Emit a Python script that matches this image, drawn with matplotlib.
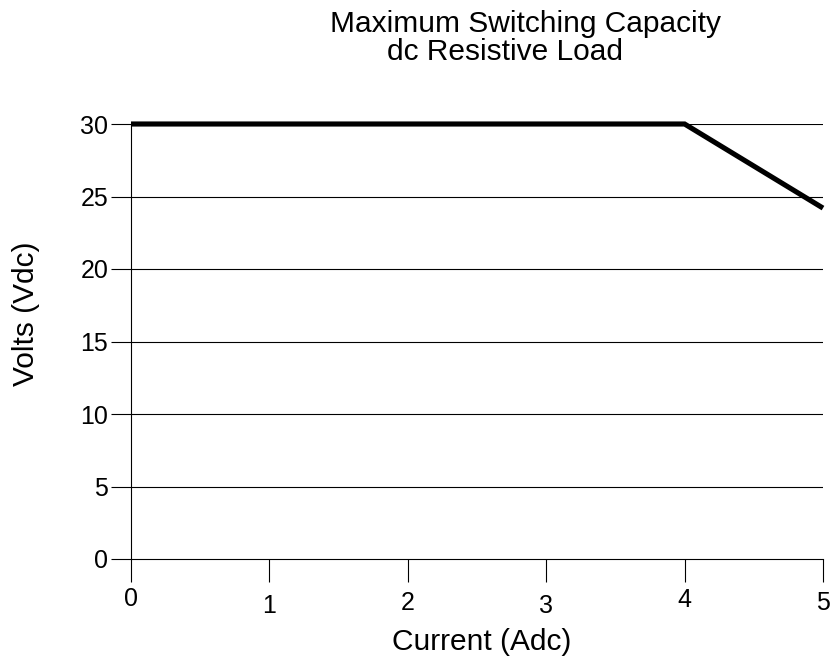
import matplotlib
matplotlib.use("Agg")
import matplotlib.pyplot as plt
import matplotlib.transforms as mtransforms

# rating curve
current = [0, 4, 5]
volts = [30, 30, 24.2]

x_ticks = [0, 1, 2, 3, 4, 5]
y_ticks = [0, 5, 10, 15, 20, 25, 30]

title_line1 = "Maximum Switching Capacity"
title_line2 = "dc Resistive Load"
x_label = "Current (Adc)"
y_label = "Volts (Vdc)"

plt.rcParams['font.family'] = ['Liberation Sans', 'DejaVu Sans']

W, H = 839, 663
fig = plt.figure(figsize=(W / 100, H / 100), dpi=100)
ax = fig.add_axes([131 / W, 1 - 559 / H, (823 - 131) / W, (559 - 124) / H])

ax.plot(current, volts, color='black', lw=3.7, solid_capstyle='butt',
        solid_joinstyle='miter', clip_on=False, zorder=5)

ax.set_xlim(0, 5)
ax.set_ylim(0, 30)
ax.set_xticks(x_ticks)
ax.set_yticks(y_ticks)
ax.set_xticklabels([str(t) for t in x_ticks])
ax.set_yticklabels([str(t) for t in y_ticks])

for y in y_ticks[1:]:
    ax.axhline(y, color='black', lw=0.8, zorder=1)

for side in ['top', 'right']:
    ax.spines[side].set_visible(False)
for side in ['left', 'bottom']:
    ax.spines[side].set_linewidth(0.8)
    ax.spines[side].set_color('black')

ax.tick_params(axis='y', length=14.4, width=0.8, pad=2, labelsize=18)
ax.tick_params(axis='x', length=16.3, width=0.8, pad=4, labelsize=18)

# the x labels sit a little unevenly in the original
x_label_shift = [0, 7, 4, 7, 1, 4]
for lab, dy in zip(ax.get_xticklabels(), x_label_shift):
    off = mtransforms.ScaledTranslation(0, -dy / 100, fig.dpi_scale_trans)
    lab.set_transform(lab.get_transform() + off)

fig.text(525 / W, 1 - 32 / H, title_line1, ha='center', va='baseline', fontsize=21.5)
fig.text(505 / W, 1 - 60 / H, title_line2, ha='center', va='baseline', fontsize=21.5)
fig.text(482 / W, 1 - 642 / H, x_label, ha='center', va='center', fontsize=21.5)
fig.text(26 / W, 1 - 314 / H, y_label, ha='center', va='center', rotation=90, fontsize=21.5)

fig.savefig("out.png", dpi=100, facecolor='white')
